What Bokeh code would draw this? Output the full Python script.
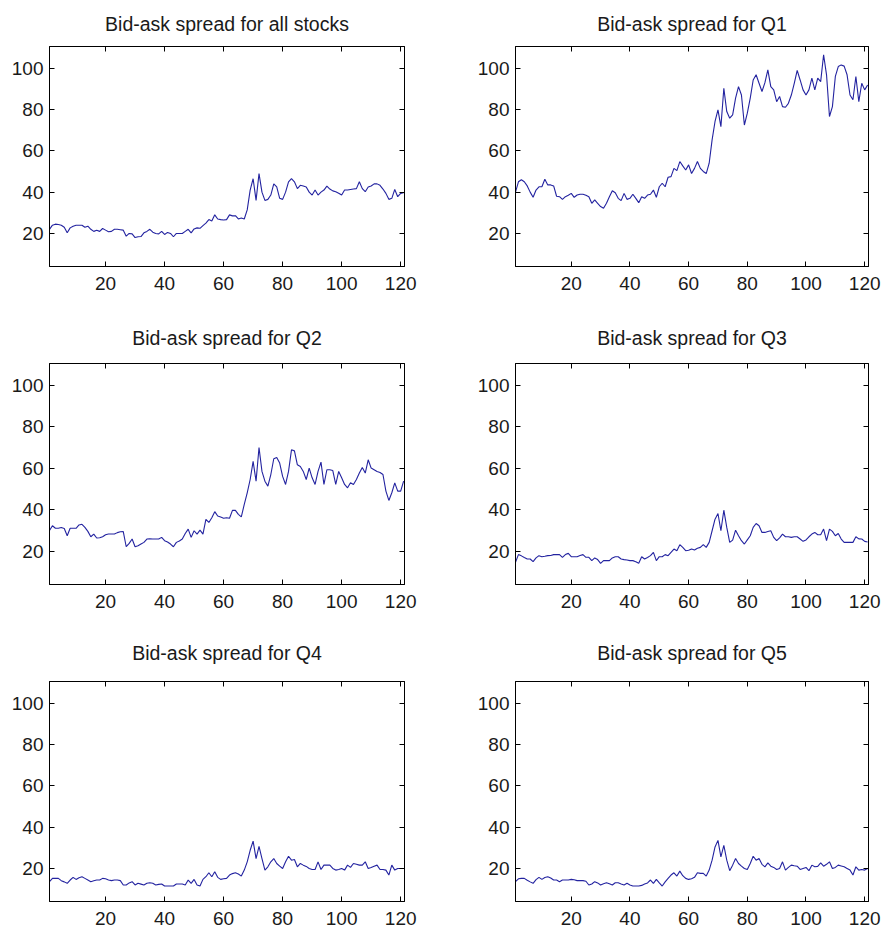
from bokeh.plotting import figure
from bokeh.models import Range1d, LinearAxis, FixedTicker
from bokeh.layouts import column, row
from bokeh.embed import file_html
from bokeh.resources import INLINE

# ---------------- data ----------------
days = list(range(1, 122))

titles = ["Bid-ask spread for all stocks", "Bid-ask spread for Q1",
          "Bid-ask spread for Q2", "Bid-ask spread for Q3",
          "Bid-ask spread for Q4", "Bid-ask spread for Q5"]

x_ticks = [20, 40, 60, 80, 100, 120]
y_ticks = [20, 40, 60, 80, 100]

all_stocks = [22, 24, 24.5, 24.3, 24, 23, 20.3, 22.7, 23.5, 24,
              24, 24, 23, 23.5, 22, 21, 21.5, 21, 22.4, 21.6,
              20.8, 21, 22, 22, 21.8, 21.6, 18.7, 20, 19.8, 18,
              18.4, 18.5, 20.3, 21, 22, 20.6, 20, 19.8, 21, 19.5,
              20.5, 20, 18.4, 20, 20, 20, 21, 22, 20.3, 22.2,
              22.7, 22.5, 23.8, 25, 26.7, 26, 29, 27, 26.7, 26.5,
              26.7, 29, 28.5, 28.6, 27, 27.5, 27, 31.4, 41, 46.5,
              36, 49, 40, 36, 36.5, 38.6, 44, 42.5, 37, 36.5,
              40, 45, 46.5, 45, 41.7, 43.3, 43, 42.5, 40, 38.6,
              41, 38.6, 40, 41, 42.9, 41.5, 40.6, 40.2, 39.5, 38.6,
              41, 41, 41.3, 41.5, 41.7, 45, 41.7, 40.2, 42.5, 43,
              44, 44, 43.3, 41.5, 39.4, 36.5, 37, 41.3, 37.8, 39.4,
              39.7]

q1 = [40, 45, 46, 45, 43, 40, 37.5, 41, 42.6, 42.6,
      46.2, 43.5, 43.5, 43, 38, 37.8, 36.5, 37.8, 38.5, 39.4,
      37.5, 38.6, 39, 39, 38.5, 37.8, 34.6, 36.2, 34.6, 33,
      32.2, 34.6, 37.8, 40.7, 39.7, 37, 35.9, 39.4, 36.5, 37,
      39, 37, 34.9, 37.8, 37, 38.6, 39, 41, 37.5, 42.6,
      44.3, 42.6, 47.2, 47.5, 51.5, 50.4, 54.8, 52.7, 50.7, 53.2,
      49, 51.5, 54.8, 51.5, 50, 49, 54, 65.3, 74.2, 79.8,
      71.7, 90.3, 79, 75.8, 77.4, 85.5, 91.1, 87, 72.5, 78.2,
      85.5, 94.3, 96.8, 92.7, 88.7, 93, 99.2, 91.1, 89.5, 83.8,
      86.3, 81.4, 81.1, 83, 87, 92.7, 98.9, 94.3, 89.5, 87,
      89.5, 95.2, 89.5, 95.2, 93.5, 106.5, 96.8, 76.6, 81.4, 96,
      100.8, 101.6, 101, 96.8, 87, 84.7, 96, 83.8, 92.7, 89.5,
      91.9]

q2 = [30, 32.3, 31.1, 31.1, 31.5, 31, 27.5, 31.1, 31.1, 31.1,
      32.7, 33, 31.5, 29.6, 27, 28.3, 26.4, 26.5, 27, 28,
      28.3, 28.3, 28.3, 29, 29.4, 29.5, 22.2, 23.8, 25.9, 22.2,
      22.7, 23.5, 24.3, 25.9, 26, 25.9, 25.9, 25.9, 26.7, 25.1,
      24.5, 23.5, 22.2, 24.3, 25, 25.9, 28.6, 30.7, 26.7, 29.9,
      28.3, 30.2, 28.3, 35.4, 33.9, 36.2, 39.1, 37, 36.5, 35.9,
      36.2, 35.9, 39.7, 39.7, 37.8, 36.6, 42.6, 48.2, 54.6, 63.3,
      53.8, 70, 58.5, 53.8, 51.4, 57, 64.6, 65.2, 62.5, 56.1,
      52.2, 58.5, 68.9, 68.4, 61.7, 60.9, 58.5, 54.6, 60.1, 55.4,
      52.2, 58.5, 63, 52.2, 59.3, 59.3, 58.9, 52.2, 58.5, 55.4,
      52.2, 50.6, 53, 52.2, 54.6, 57.7, 60.4, 57.7, 64.1, 60.1,
      59.3, 58.5, 58, 57, 49, 44.5, 48.2, 53, 49, 49,
      53.8]

q3 = [14.7, 18.4, 17.8, 17, 16.3, 16.3, 15, 16.8, 17.9, 17.4,
      17.6, 17.9, 18, 18.4, 18.4, 18.4, 17.1, 18.4, 19, 17.4,
      17.4, 17.4, 18, 18.4, 17.1, 17.1, 15.5, 16.8, 16, 14.2,
      15.5, 15.5, 15.5, 16.8, 17.4, 17.4, 16.3, 16, 15.8, 15.5,
      15.5, 15, 14.2, 17.4, 16.3, 17, 17.9, 19.5, 15.5, 17.4,
      17.4, 18.4, 17.9, 19.5, 21.1, 20.3, 23.2, 21.9, 20.3, 20.5,
      21.1, 20.6, 21.5, 21.9, 23.2, 21.9, 24.3, 29.9, 35.5, 38.2,
      29.9, 39.8, 31.5, 24.3, 25.4, 30.2, 27.5, 25.1, 23.5, 25.5,
      27.5, 31.5, 33.4, 32.3, 29.1, 29.1, 29.5, 29.9, 26.7, 25.1,
      26.5, 28.3, 27, 27, 26.7, 27, 27, 25.9, 24.8, 25.5,
      27, 28.3, 29.1, 28, 28, 30.7, 25.1, 30.7, 29.6, 27.5,
      28.6, 25.9, 24.3, 24.3, 24.3, 24.3, 27, 26, 25.9, 24.8,
      24.5]

q4 = [13.6, 15.2, 15.2, 15.2, 14.1, 13.5, 12.8, 14.4, 15.7, 14.7,
      15.5, 16, 15.2, 14.4, 13.6, 14, 14.4, 14.4, 15.2, 15,
      14.4, 14.1, 14.4, 14.4, 14.1, 12, 12, 13, 13.6, 12,
      12.8, 12.4, 12, 12.8, 13.1, 12.8, 12, 12.3, 12.5, 11.5,
      11.5, 11.5, 11.5, 12.5, 12.5, 12.5, 12, 14.4, 12.8, 14.7,
      12, 11.5, 14.7, 16, 17.9, 16, 18.4, 15.7, 14.7, 15,
      15.2, 16.8, 17.5, 17.9, 17.3, 16.3, 19.2, 23.2, 28.8, 33.2,
      24.8, 30.7, 24.8, 19.2, 20.8, 23.2, 24.8, 22.4, 21.1, 20,
      23.2, 25.9, 24, 24.3, 20.8, 22.4, 21.6, 21, 20, 19.5,
      19.5, 23.2, 19.5, 21.6, 21.6, 21.6, 20, 19.2, 19.5, 20,
      19.2, 21.6, 20.5, 22.4, 22, 21.6, 21.6, 23.2, 20, 20.5,
      21.1, 21.6, 19.5, 19.5, 19.2, 16.8, 21.6, 19.2, 20, 20,
      20]

q5 = [13.6, 15, 15.2, 15.2, 14.3, 13.5, 12.8, 14.6, 15.7, 14.7,
      15.6, 16, 15.4, 14.4, 14.4, 13.6, 14.4, 14.4, 14.4, 14.7,
      14.5, 14.1, 14.1, 14.1, 13.8, 12, 12.5, 13.6, 13, 12,
      12.6, 13.1, 12.6, 12, 13.1, 13.1, 12.5, 12, 12.8, 12,
      11.5, 11.5, 11.5, 11.8, 12.5, 13, 14.4, 12.8, 14.7, 13,
      11.5, 13.5, 15.2, 16.8, 17.9, 16.3, 18.7, 16.5, 15.2, 14.7,
      15, 15.7, 17.9, 17.6, 17.6, 16.3, 19.2, 24, 30.4, 33.6,
      25.6, 31.2, 24, 18.9, 21.6, 24.8, 22.4, 21.1, 20, 19.5,
      22.4, 25.9, 24, 24.8, 22, 20.8, 22.7, 21.1, 20.5, 19.5,
      20, 23.2, 19.2, 20.5, 21.6, 21.3, 21.1, 19.5, 20, 20.5,
      18.9, 21.6, 20.8, 21, 22.7, 21.1, 22, 23.2, 20, 20.5,
      21.6, 21.2, 20.8, 20, 19.2, 16.8, 20.8, 19.2, 19.5, 19.2,
      20]

series = [all_stocks, q1, q2, q3, q4, q5]

# ---------------- styling ----------------
FONT = "Liberation Sans"
LINE_COLOR = "#2323a0"
TEXT_COLOR = "#1a1a1a"
TICK_LEN = 5


def style_axis(ax, ticks, standoff=6, show_labels=True):
    ax.ticker = FixedTicker(ticks=ticks)
    ax.major_tick_in = TICK_LEN
    ax.major_tick_out = 0
    ax.minor_tick_in = 0
    ax.minor_tick_out = 0
    ax.axis_line_color = "black"
    ax.major_tick_line_color = "black"
    ax.major_label_text_font = FONT
    if show_labels:
        ax.major_label_text_color = TEXT_COLOR
        ax.major_label_text_font_size = "19px"
        ax.major_label_standoff = standoff
    else:
        # ticks only (box-style axes): no labels drawn
        ax.major_label_text_color = None
        ax.major_label_text_font_size = "1px"
        ax.major_label_standoff = 0


def make_panel(title, y, width, height, bl, br, bt, bb, title_standoff):
    p = figure(width=width, height=height, output_backend="svg",
               toolbar_location=None,
               x_range=Range1d(1, 121.3), y_range=Range1d(4, 110.5),
               min_border_left=bl, min_border_right=br,
               min_border_top=bt, min_border_bottom=bb,
               background_fill_color="white", border_fill_color="white")
    p.title.text = title
    p.title.align = "center"
    p.title.vertical_align = "middle"
    p.title.text_font = FONT
    p.title.text_font_size = "19.5px"
    p.title.text_font_style = "normal"
    p.title.text_color = TEXT_COLOR
    p.title.standoff = title_standoff
    p.xgrid.visible = False
    p.ygrid.visible = False
    p.outline_line_color = "black"
    p.outline_line_alpha = 1.0
    style_axis(p.xaxis[0], x_ticks, standoff=10)
    style_axis(p.yaxis[0], y_ticks, standoff=6)
    top = LinearAxis()
    style_axis(top, x_ticks, show_labels=False)
    p.add_layout(top, "above")
    right = LinearAxis()
    style_axis(right, y_ticks, show_labels=False)
    p.add_layout(right, "right")
    p.line(days, y, line_color=LINE_COLOR, line_width=1.1)
    return p


# row layout: figure heights, top/bottom borders and title standoff per row
row_heights = [311, 311, 311]
tops = [46, 52, 59]
bottoms = [45, 38, 32]
title_standoffs = [21, 27, 34]
rows = []
for r in range(3):
    left = make_panel(titles[2 * r], series[2 * r], 441, row_heights[r],
                      49, 37, tops[r], bottoms[r], title_standoffs[r])
    right = make_panel(titles[2 * r + 1], series[2 * r + 1], 442, row_heights[r],
                       74, 15, tops[r], bottoms[r], title_standoffs[r])
    rows.append(row(left, right))

layout = column(*rows)

open("out.html", "w").write(file_html(layout, INLINE))
